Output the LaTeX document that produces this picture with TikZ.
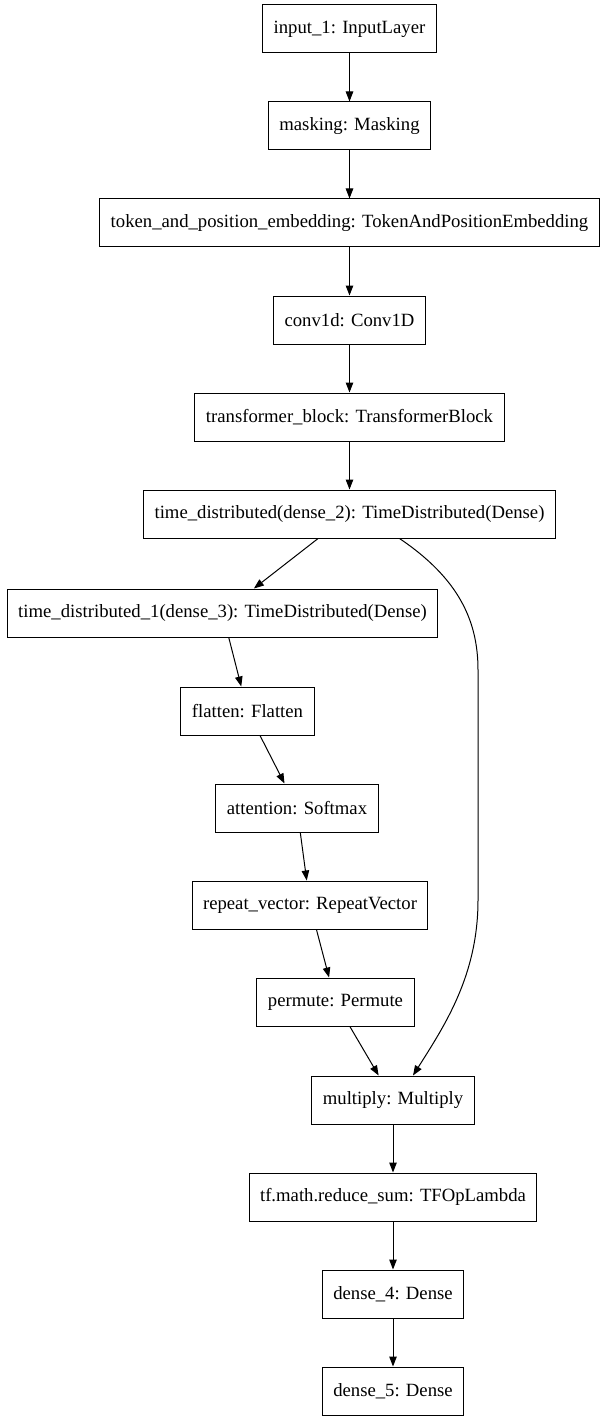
\documentclass[tikz,border=0pt]{standalone}
\usepackage{fontspec}
\setmainfont{Liberation Serif}
\usepackage{tikz}
\usetikzlibrary{arrows.meta, positioning}

\begin{document}
\begin{tikzpicture}[
    x=1pt, y=-1pt,
    node distance=48pt,
    layer/.style={
        rectangle, draw,
        line width=1pt,
        inner xsep=11pt,
        inner ysep=0pt,
        minimum height=48pt,
        font=\fontsize{18.7}{22}\selectfont
    },
    arrow/.style={-{Triangle[length=10pt,width=7.5pt]}, line width=1pt}
]
\useasboundingbox (0,0) rectangle (613,1423);

% Main column
\node [layer] at (349.5,29) (input) {input\_1: InputLayer};
\node [layer, below=of input] (masking) {masking: Masking};
\node [layer, below=of masking] (embed) {token\_and\_position\_embedding: TokenAndPositionEmbedding};
\node [layer, below=of embed] (conv) {conv1d: Conv1D};
\node [layer, below=of conv] (trans) {transformer\_block: TransformerBlock};
\node [layer, below=of trans] (tdist) {time\_distributed(dense\_2): TimeDistributed(Dense)};

% Attention branch
\node [layer] at (222.5,613) (tdistone) {time\_distributed\_1(dense\_3): TimeDistributed(Dense)};
\node [layer] at (247.5,711) (flatten) {flatten: Flatten};
\node [layer] at (297,808) (attn) {attention: Softmax};
\node [layer] at (310,905) (repeat) {repeat\_vector: RepeatVector};
\node [layer] at (335.5,1002) (permute) {permute: Permute};

% Output column
\node [layer] at (393,1100) (multiply) {multiply: Multiply};
\node [layer, below=of multiply] (redsum) {tf.math.reduce\_sum: TFOpLambda};
\node [layer, below=of redsum] (densefour) {dense\_4: Dense};
\node [layer, below=of densefour] (densefive) {dense\_5: Dense};

% Bend of the skip edge
\coordinate (bendtop) at (478,670);
\coordinate (bendbot) at (478,900);

% Arrows
\draw [arrow] (input) -- (masking);
\draw [arrow] (masking) -- (embed);
\draw [arrow] (embed) -- (conv);
\draw [arrow] (conv) -- (trans);
\draw [arrow] (trans) -- (tdist);
\draw [arrow] (tdist) -- (tdistone);
\draw [arrow] (tdistone) -- (flatten);
\draw [arrow] (flatten) -- (attn);
\draw [arrow] (attn) -- (repeat);
\draw [arrow] (repeat) -- (permute);
\draw [arrow] (permute) -- (multiply);
\draw [arrow] ([xshift=50pt]tdist.south) .. controls (458,578) and (478,620) .. (bendtop)
    -- (bendbot) .. controls (478,975) and (445,1025) .. ([xshift=20pt]multiply.north);
\draw [arrow] (multiply) -- (redsum);
\draw [arrow] (redsum) -- (densefour);
\draw [arrow] (densefour) -- (densefive);

\end{tikzpicture}
\end{document}
